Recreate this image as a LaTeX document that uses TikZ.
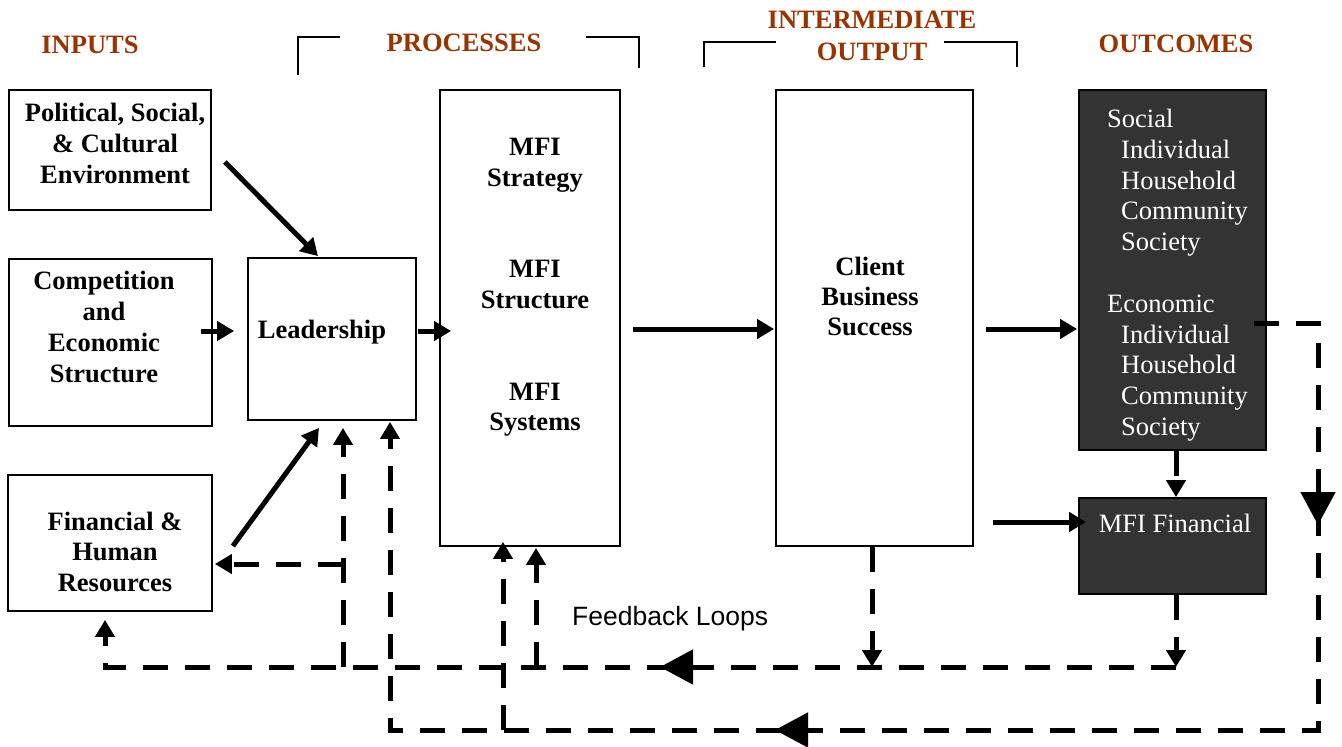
\documentclass[tikz,border=0pt]{standalone}
\usepackage{fontspec}
\setmainfont{Liberation Serif}
\newfontfamily\arialfont{Liberation Sans}
\usetikzlibrary{arrows.meta,decorations.markings,calc}
\definecolor{hdrcol}{HTML}{993300}
\definecolor{darkbox}{HTML}{333333}
\begin{document}
\begin{tikzpicture}[x=1pt,y=-1pt,
  box/.style={draw=black, line width=1.8pt, inner sep=0pt},
  dbox/.style={box, fill=darkbox},
  lbl/.style={font=\fontsize{26.5pt}{31pt}\selectfont\bfseries, anchor=base, inner sep=0pt},
  wlbl/.style={font=\fontsize{26.5pt}{31pt}\selectfont, text=white, anchor=base west, inner sep=0pt},
  hdr/.style={font=\fontsize{26.5pt}{31pt}\selectfont\bfseries, text=hdrcol, anchor=base, inner sep=0pt},
  brk/.style={line width=1.8pt},
  conn/.style={line width=5pt, -{Triangle[length=17pt,width=19pt]}},
  dconn/.style={conn, dash pattern=on 25pt off 17pt},
  bigmark/.style={postaction={decorate, decoration={markings,
      mark=at position #1 with {\arrow{Triangle[length=33pt,width=34pt]}}}}}
]
\useasboundingbox (0,0) rectangle (1342,747);

% headers
\node[hdr] (hin) at (90,53) {INPUTS};
\node[hdr] (hproc) at (464,51) {PROCESSES};
\node[hdr] (hint1) at (872,28) {INTERMEDIATE};
\node[hdr] (hint2) at (872,60) {OUTPUT};
\node[hdr] (hout) at (1176,52) {OUTCOMES};
\draw[brk] (298,75) -- (298,37) -- (340,37);
\draw[brk] (586,37) -- (639,37) -- (639,68);
\draw[brk] (704,67) -- (704,42) -- (776,42);
\draw[brk] (944,42) -- (1017,42) -- (1017,67);

% boxes
\node[box, minimum width=202pt, minimum height=120pt] (pol) at (110,150) {};
\node[box, minimum width=203pt, minimum height=167pt] (comp) at (110.5,342.5) {};
\node[box, minimum width=204pt, minimum height=136pt] (fin) at (110,543) {};
\node[box, minimum width=168pt, minimum height=162pt] (lead) at (332,339) {};
\node[box, minimum width=180pt, minimum height=456pt] (mfi) at (530,318) {};
\node[box, minimum width=197pt, minimum height=456pt] (client) at (874.5,318) {};
\node[dbox, minimum width=187pt, minimum height=360pt] (outc) at (1172.5,270) {};
\node[dbox, minimum width=187pt, minimum height=96pt] (mfif) at (1172.5,546) {};

% box texts
\node[lbl] (p1) at (115,121) {Political, Social,};
\node[lbl] (p2) at (115,152) {\& Cultural};
\node[lbl] (p3) at (115,183) {Environment};
\node[lbl] (c1) at (104,289) {Competition};
\node[lbl] (c2) at (104,320) {and};
\node[lbl] (c3) at (104,351) {Economic};
\node[lbl] (c4) at (104,382) {Structure};
\node[lbl] (f1) at (115,530) {Financial \&};
\node[lbl] (f2) at (115,560) {Human};
\node[lbl] (f3) at (115,591) {Resources};
\node[lbl] (l1) at (322,338) {Leadership};
\node[lbl] (m1) at (535,155) {MFI};
\node[lbl] (m2) at (535,186) {Strategy};
\node[lbl] (m3) at (535,277) {MFI};
\node[lbl] (m4) at (535,308) {Structure};
\node[lbl] (m5) at (535,400) {MFI};
\node[lbl] (m6) at (535,430) {Systems};
\node[lbl] (k1) at (870,275) {Client};
\node[lbl] (k2) at (870,305) {Business};
\node[lbl] (k3) at (870,335) {Success};
\node[wlbl] (o1) at (1107,127) {Social};
\node[wlbl] (o2) at (1121,158) {Individual};
\node[wlbl] (o3) at (1121,189) {Household};
\node[wlbl] (o4) at (1121,219) {Community};
\node[wlbl] (o5) at (1121,250) {Society};
\node[wlbl] (o6) at (1107,312) {Economic};
\node[wlbl] (o7) at (1121,343) {Individual};
\node[wlbl] (o8) at (1121,373) {Household};
\node[wlbl] (o9) at (1121,404) {Community};
\node[wlbl] (o10) at (1121,435) {Society};
\node[wlbl, anchor=base] (ff) at (1175,532) {MFI Financial};
\node[anchor=base west, inner sep=0pt, font=\arialfont\fontsize{26.5pt}{31pt}\selectfont] (fb) at (572,625) {Feedback Loops};

% solid connectors
\draw[conn] ($(pol.east)+(13,12)$) -- ($(lead.north)+(-14,-1)$);
\draw[conn] ($(comp.east)+(-12,-11.5)$) -- ($(lead.west)+(-13,-8)$);
\draw[conn] ($(lead.east)+(1,-8)$) -- ($(mfi.west)+(12,13)$);
\draw[conn] ($(fin.east)+(20,3)$) -- ($(lead.south)+(-13,7)$);
\draw[conn] ($(mfi.east)+(12,11)$) -- ($(client.west)+(-1,11)$);
\draw[conn] ($(client.east)+(12,11)$) -- ($(outc.west)+(-1,59)$);
\draw[conn] ($(client.east)+(19,204)$) -- ($(mfif.west)+(8,-24)$);

% feedback coordinates
\coordinate (lowR) at (1176,667);
\coordinate (lowL) at (105,667);
\coordinate (outS) at (1254,323);
\coordinate (topR) at (1318,323);
\coordinate (botR) at (1318,730);
\coordinate (botL) at (390,730);
\coordinate (brL) at (343,667);
\coordinate (brF) at (343,564);
\coordinate (brM) at (536,667);
\coordinate (brM2) at (503,730);

% dashed connectors
\draw[dconn] ([xshift=3.5pt]outc.south) -- ([xshift=3.5pt]mfif.north);
\draw[dconn] ([xshift=3.5pt]mfif.south) -- (lowR);
\draw[dconn] ([xshift=-2.5pt]client.south) -- ([xshift=-2.5pt]client.south |- lowR);
\draw[dconn, shorten >=8pt, bigmark=516pt] (lowR) -- (lowL) -- (lowL |- fin.south);
\draw[dconn, shorten >=7pt] (brL) -- (brL |- lead.south);
\draw[dconn] (brF) -- ($(fin.east)+(2,21)$);
\draw[dconn, shorten >=1pt] (brM) -- (brM |- mfi.south);
\draw[dconn, shorten >=-5pt] (brM2) -- (brM2 |- mfi.south);
\draw[dconn, shorten >=1pt,
  postaction={decorate, decoration={markings,
    mark=at position 266pt with {\arrow{Triangle[length=33pt,width=34pt]}},
    mark=at position 1014pt with {\arrow{Triangle[length=33pt,width=34pt]}}}}]
  (outS) -- (topR) -- (botR) -- (botL) -- (botL |- lead.south);
\end{tikzpicture}
\end{document}
